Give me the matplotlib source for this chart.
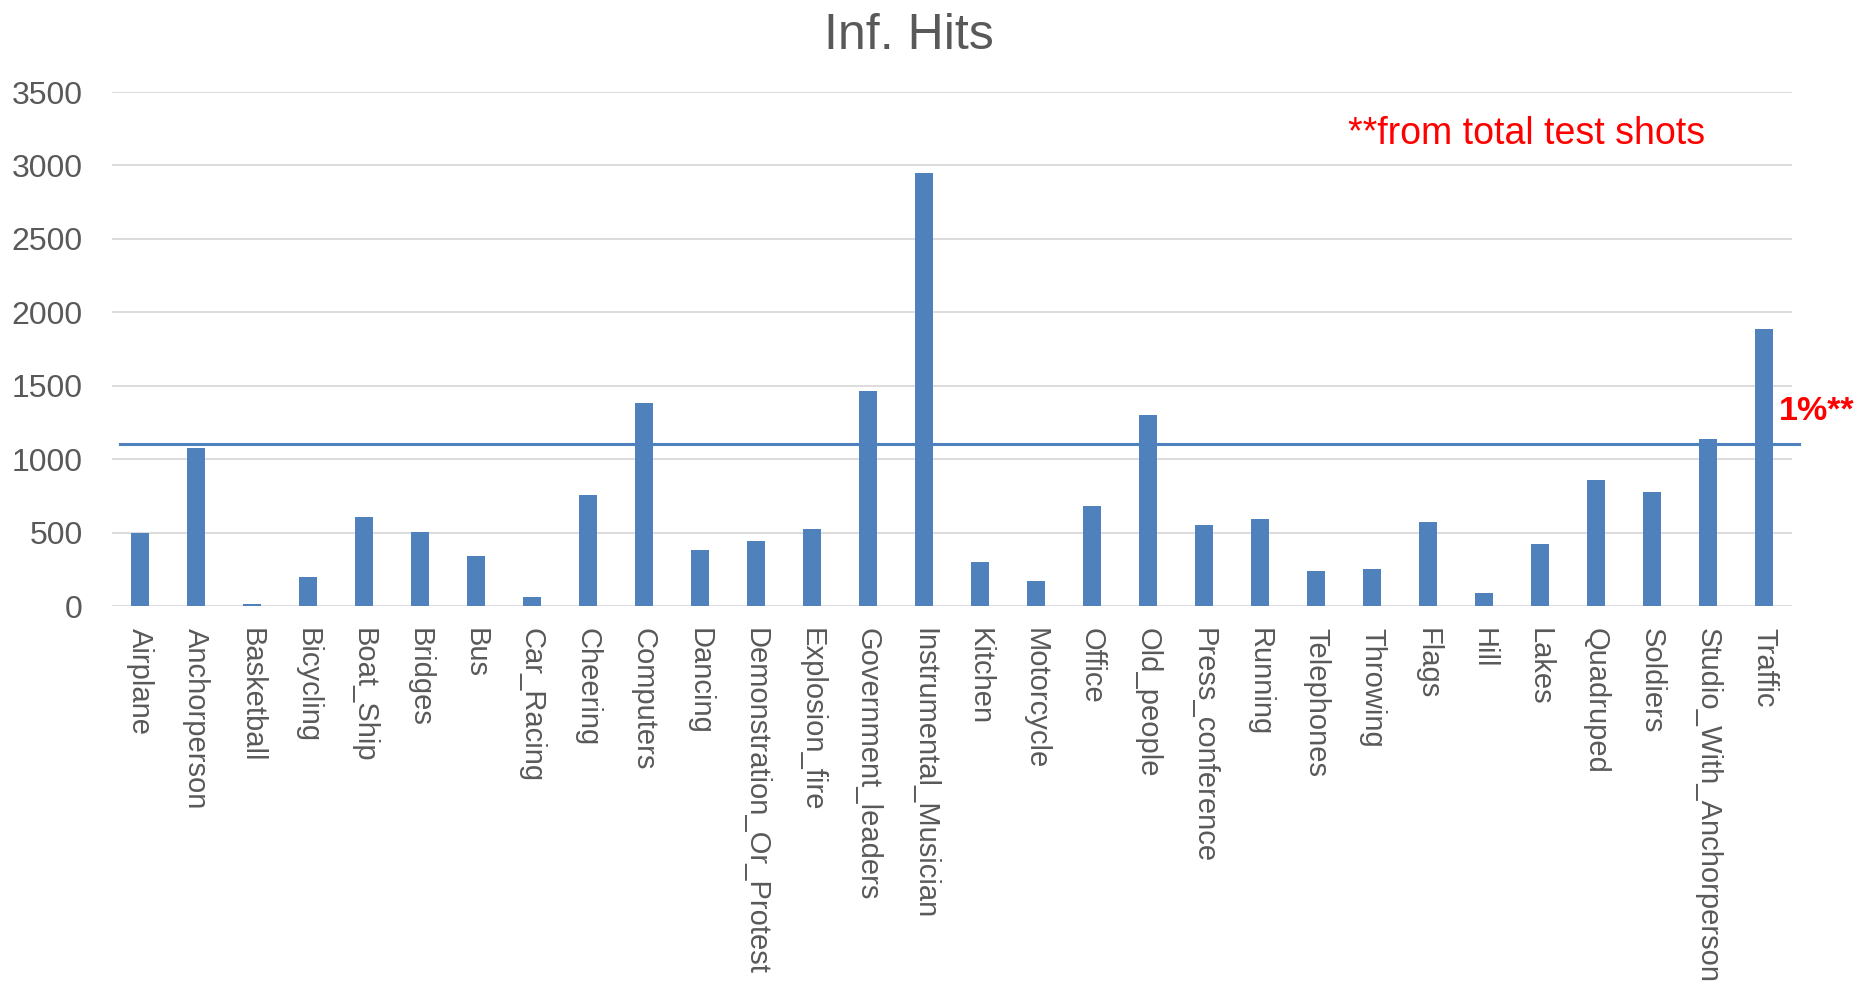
import matplotlib
matplotlib.use("Agg")
import matplotlib.pyplot as plt
import numpy as np

plt.rcParams['font.family'] = ['Liberation Sans', 'DejaVu Sans']

categories = ['Airplane', 'Anchorperson', 'Basketball', 'Bicycling', 'Boat_Ship', 'Bridges',
              'Bus', 'Car_Racing', 'Cheering', 'Computers', 'Dancing', 'Demonstration_Or_Protest',
              'Explosion_fire', 'Government_leaders', 'Instrumental_Musician', 'Kitchen',
              'Motorcycle', 'Office', 'Old_people', 'Press_conference', 'Running', 'Telephones',
              'Throwing', 'Flags', 'Hill', 'Lakes', 'Quadruped', 'Soldiers',
              'Studio_With_Anchorperson', 'Traffic']
hits = [498, 1074, 12, 199, 607, 503, 340, 63, 753, 1385, 381, 442, 525, 1463, 2950,
        297, 170, 680, 1300, 552, 595, 238, 255, 574, 92, 425, 855, 778, 1137, 1888]
threshold = 1100
yticks = [0, 500, 1000, 1500, 2000, 2500, 3000, 3500]

blue = '#4F81BD'
grey_text = '#595959'

fig = plt.figure(figsize=(18.57, 9.83), dpi=100)
ax = fig.add_axes([0.0603, 0.3835, 0.9047, 0.5229])

x = np.arange(len(categories))
ax.bar(x, hits, width=0.32, color=blue, zorder=3)

# 1% threshold line, runs a bit past the plot area on the right
ax.plot([-0.36, len(categories) - 0.38], [threshold, threshold], color=blue,
        linewidth=2.2, zorder=4, clip_on=False)

ax.set_xlim(-0.5, len(categories) - 0.5)
ax.set_ylim(0, 3500)
ax.set_yticks(yticks)
ax.set_yticklabels([str(t) for t in yticks])
ax.set_xticks(x)
ax.set_xticklabels(categories, rotation=270, ha='center', va='top')
ax.tick_params(axis='y', length=0, pad=21, labelsize=23, labelcolor=grey_text)
ax.tick_params(axis='x', length=0, pad=16, labelsize=21, labelcolor=grey_text)

ax.grid(axis='y', color='#D9D9D9', linewidth=1.3, zorder=0)
for s in ax.spines.values():
    s.set_visible(False)

fig.text(909 / 1857, 1 - 49 / 983, 'Inf. Hits', ha='center', va='baseline',
         fontsize=36, color=grey_text)
ax.text(0.842, 0.918, '**from total test shots', transform=ax.transAxes,
        ha='center', va='center', fontsize=27, color='red')
fig.text(1779 / 1857, 1 - 412 / 983, '1%**', ha='left', va='center',
         fontsize=24.5, fontweight='bold', color='red')

fig.savefig('out.png', dpi=100)
